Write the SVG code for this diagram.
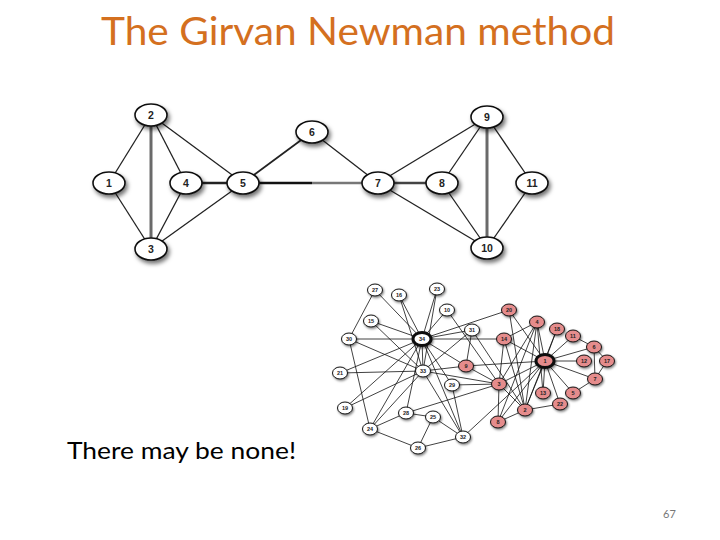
<svg xmlns="http://www.w3.org/2000/svg" width="720" height="540" viewBox="0 0 720 540">
<defs>
<filter id="sh" x="-50%" y="-50%" width="200%" height="200%"><feDropShadow dx="2" dy="3" stdDeviation="2" flood-color="#000" flood-opacity="0.55"/></filter>
<filter id="sh2" x="-50%" y="-50%" width="200%" height="200%"><feDropShadow dx="1" dy="1.5" stdDeviation="1" flood-color="#000" flood-opacity="0.5"/></filter>
</defs>
<style>
.title{font-family:Lato,"Open Sans","Liberation Sans",sans-serif;font-size:38px;fill:#D4701F}
.body{font-family:Lato,"Open Sans","Liberation Sans",sans-serif;font-size:24px;fill:#000}
.pg{font-family:Lato,"Liberation Sans",sans-serif;font-size:11px;fill:#777}
.tn ellipse{fill:#fff;stroke:#111;stroke-width:1.6;filter:url(#sh)}
.tn text{font-family:"Liberation Sans",Arial,sans-serif;font-size:10.5px;font-weight:bold;fill:#222;text-anchor:middle}
.e{stroke:#222;stroke-width:1.3;fill:none}
.ke{stroke:#111;stroke-width:0.8;fill:none}
.kn ellipse{stroke:#111;stroke-width:1;filter:url(#sh2)}
.w ellipse{fill:#fff}
.r ellipse{fill:#E58C8C}
.big ellipse{stroke-width:3}
.kn text{font-family:"Liberation Sans",Arial,sans-serif;font-size:5.5px;font-weight:bold;fill:#222;text-anchor:middle}
</style>
<rect width="720" height="540" fill="#fff"/>
<text class="title" x="358" y="45" text-anchor="middle" textLength="514" lengthAdjust="spacingAndGlyphs">The Girvan Newman method</text>

<g id="top-edges">
<line class="e" x1="151" y1="115" x2="109" y2="183"/>
<line class="e" x1="109" y1="183" x2="151" y2="249"/>
<line class="e" x1="151" y1="115" x2="151" y2="249" style="stroke:#6a6a6a;stroke-width:3"/>
<line class="e" x1="151" y1="115" x2="186" y2="183"/>
<line class="e" x1="151" y1="115" x2="243" y2="183"/>
<line class="e" x1="186" y1="183" x2="151" y2="249"/>
<line class="e" x1="243" y1="183" x2="151" y2="249"/>
<line class="e" x1="186" y1="183" x2="243" y2="183" style="stroke-width:2.5"/>
<line class="e" x1="243" y1="183" x2="312" y2="132" style="stroke-width:1.8"/>
<line class="e" x1="243" y1="183" x2="312" y2="183" style="stroke:#111;stroke-width:2.4"/>
<line class="e" x1="312" y1="183" x2="378" y2="183" style="stroke:#777;stroke-width:2.4"/>
<line class="e" x1="312" y1="132" x2="378" y2="183"/>
<line class="e" x1="378" y1="183" x2="442" y2="183" style="stroke:#444;stroke-width:2.5"/>
<line class="e" x1="378" y1="183" x2="487" y2="117"/>
<line class="e" x1="378" y1="183" x2="487" y2="248"/>
<line class="e" x1="442" y1="183" x2="487" y2="117"/>
<line class="e" x1="442" y1="183" x2="487" y2="248"/>
<line class="e" x1="487" y1="117" x2="487" y2="248" style="stroke:#6a6a6a;stroke-width:3"/>
<line class="e" x1="487" y1="117" x2="532" y2="183"/>
<line class="e" x1="532" y1="183" x2="487" y2="248"/>
</g>

<g id="n1" class="tn"><ellipse cx="109" cy="183" rx="16" ry="11"/><text x="109" y="187">1</text></g>
<g id="n2" class="tn"><ellipse cx="151" cy="115" rx="16" ry="11"/><text x="151" y="119">2</text></g>
<g id="n3" class="tn"><ellipse cx="151" cy="249" rx="16" ry="11"/><text x="151" y="253">3</text></g>
<g id="n4" class="tn"><ellipse cx="186" cy="183" rx="16" ry="11"/><text x="186" y="187">4</text></g>
<g id="n5" class="tn"><ellipse cx="243" cy="183" rx="16" ry="11"/><text x="243" y="187">5</text></g>
<g id="n6" class="tn"><ellipse cx="312" cy="132" rx="16" ry="11"/><text x="312" y="136">6</text></g>
<g id="n7" class="tn"><ellipse cx="378" cy="183" rx="16" ry="11"/><text x="378" y="187">7</text></g>
<g id="n8" class="tn"><ellipse cx="442" cy="183" rx="16" ry="11"/><text x="442" y="187">8</text></g>
<g id="n9" class="tn"><ellipse cx="487" cy="117" rx="16" ry="11"/><text x="487" y="121">9</text></g>
<g id="n10" class="tn"><ellipse cx="487" cy="248" rx="16" ry="11"/><text x="487" y="252">10</text></g>
<g id="n11" class="tn"><ellipse cx="532" cy="183" rx="16" ry="11"/><text x="532" y="187">11</text></g>

<g id="karate-edges">
<line class="ke" x1="545" y1="361" x2="525" y2="410"/>
<line class="ke" x1="545" y1="361" x2="499" y2="384"/>
<line class="ke" x1="545" y1="361" x2="537" y2="322"/>
<line class="ke" x1="545" y1="361" x2="573" y2="393"/>
<line class="ke" x1="545" y1="361" x2="594" y2="347"/>
<line class="ke" x1="545" y1="361" x2="595" y2="379"/>
<line class="ke" x1="545" y1="361" x2="498" y2="422"/>
<line class="ke" x1="545" y1="361" x2="466" y2="366"/>
<line class="ke" x1="545" y1="361" x2="573" y2="336"/>
<line class="ke" x1="545" y1="361" x2="584" y2="361"/>
<line class="ke" x1="545" y1="361" x2="543" y2="393"/>
<line class="ke" x1="545" y1="361" x2="504" y2="339"/>
<line class="ke" x1="545" y1="361" x2="557" y2="329"/>
<line class="ke" x1="545" y1="361" x2="509" y2="310"/>
<line class="ke" x1="545" y1="361" x2="560" y2="404"/>
<line class="ke" x1="545" y1="361" x2="463" y2="437"/>
<line class="ke" x1="525" y1="410" x2="499" y2="384"/>
<line class="ke" x1="525" y1="410" x2="537" y2="322"/>
<line class="ke" x1="525" y1="410" x2="498" y2="422"/>
<line class="ke" x1="525" y1="410" x2="504" y2="339"/>
<line class="ke" x1="525" y1="410" x2="557" y2="329"/>
<line class="ke" x1="525" y1="410" x2="509" y2="310"/>
<line class="ke" x1="525" y1="410" x2="560" y2="404"/>
<line class="ke" x1="525" y1="410" x2="472" y2="330"/>
<line class="ke" x1="499" y1="384" x2="537" y2="322"/>
<line class="ke" x1="499" y1="384" x2="498" y2="422"/>
<line class="ke" x1="499" y1="384" x2="466" y2="366"/>
<line class="ke" x1="499" y1="384" x2="447" y2="310"/>
<line class="ke" x1="499" y1="384" x2="504" y2="339"/>
<line class="ke" x1="499" y1="384" x2="406" y2="413"/>
<line class="ke" x1="499" y1="384" x2="452" y2="385"/>
<line class="ke" x1="499" y1="384" x2="423" y2="371"/>
<line class="ke" x1="537" y1="322" x2="498" y2="422"/>
<line class="ke" x1="537" y1="322" x2="543" y2="393"/>
<line class="ke" x1="537" y1="322" x2="504" y2="339"/>
<line class="ke" x1="573" y1="393" x2="595" y2="379"/>
<line class="ke" x1="594" y1="347" x2="595" y2="379"/>
<line class="ke" x1="594" y1="347" x2="573" y2="336"/>
<line class="ke" x1="594" y1="347" x2="607" y2="361"/>
<line class="ke" x1="595" y1="379" x2="607" y2="361"/>
<line class="ke" x1="466" y1="366" x2="472" y2="330"/>
<line class="ke" x1="466" y1="366" x2="423" y2="371"/>
<line class="ke" x1="466" y1="366" x2="422" y2="339"/>
<line class="ke" x1="447" y1="310" x2="422" y2="339"/>
<line class="ke" x1="504" y1="339" x2="422" y2="339"/>
<line class="ke" x1="371" y1="321" x2="423" y2="371"/>
<line class="ke" x1="371" y1="321" x2="422" y2="339"/>
<line class="ke" x1="399" y1="295" x2="423" y2="371"/>
<line class="ke" x1="399" y1="295" x2="422" y2="339"/>
<line class="ke" x1="345" y1="408" x2="423" y2="371"/>
<line class="ke" x1="345" y1="408" x2="422" y2="339"/>
<line class="ke" x1="509" y1="310" x2="422" y2="339"/>
<line class="ke" x1="340" y1="373" x2="423" y2="371"/>
<line class="ke" x1="340" y1="373" x2="422" y2="339"/>
<line class="ke" x1="437" y1="289" x2="423" y2="371"/>
<line class="ke" x1="437" y1="289" x2="422" y2="339"/>
<line class="ke" x1="370" y1="429" x2="418" y2="448"/>
<line class="ke" x1="370" y1="429" x2="406" y2="413"/>
<line class="ke" x1="370" y1="429" x2="349" y2="339"/>
<line class="ke" x1="370" y1="429" x2="423" y2="371"/>
<line class="ke" x1="370" y1="429" x2="422" y2="339"/>
<line class="ke" x1="433" y1="417" x2="418" y2="448"/>
<line class="ke" x1="433" y1="417" x2="406" y2="413"/>
<line class="ke" x1="433" y1="417" x2="463" y2="437"/>
<line class="ke" x1="418" y1="448" x2="463" y2="437"/>
<line class="ke" x1="375" y1="290" x2="349" y2="339"/>
<line class="ke" x1="375" y1="290" x2="422" y2="339"/>
<line class="ke" x1="406" y1="413" x2="422" y2="339"/>
<line class="ke" x1="452" y1="385" x2="463" y2="437"/>
<line class="ke" x1="452" y1="385" x2="422" y2="339"/>
<line class="ke" x1="349" y1="339" x2="423" y2="371"/>
<line class="ke" x1="349" y1="339" x2="422" y2="339"/>
<line class="ke" x1="472" y1="330" x2="423" y2="371"/>
<line class="ke" x1="472" y1="330" x2="422" y2="339"/>
<line class="ke" x1="463" y1="437" x2="423" y2="371"/>
<line class="ke" x1="463" y1="437" x2="422" y2="339"/>
<line class="ke" x1="423" y1="371" x2="422" y2="339"/>
</g>

<g id="k27" class="kn w"><ellipse cx="375" cy="290" rx="7.5" ry="6"/><text x="375" y="292">27</text></g>
<g id="k16" class="kn w"><ellipse cx="399" cy="295" rx="7.5" ry="6"/><text x="399" y="297">16</text></g>
<g id="k23" class="kn w"><ellipse cx="437" cy="289" rx="7.5" ry="6"/><text x="437" y="291">23</text></g>
<g id="k10" class="kn w"><ellipse cx="447" cy="310" rx="7.5" ry="6"/><text x="447" y="312">10</text></g>
<g id="k15" class="kn w"><ellipse cx="371" cy="321" rx="7.5" ry="6"/><text x="371" y="323">15</text></g>
<g id="k30" class="kn w"><ellipse cx="349" cy="339" rx="7.5" ry="6"/><text x="349" y="341">30</text></g>
<g id="k34" class="kn w big"><ellipse cx="422" cy="339" rx="9" ry="6.5"/><text x="422" y="341">34</text></g>
<g id="k31" class="kn w"><ellipse cx="472" cy="330" rx="7.5" ry="6"/><text x="472" y="332">31</text></g>
<g id="k21" class="kn w"><ellipse cx="340" cy="373" rx="7.5" ry="6"/><text x="340" y="375">21</text></g>
<g id="k33" class="kn w"><ellipse cx="423" cy="371" rx="7.5" ry="6"/><text x="423" y="373">33</text></g>
<g id="k29" class="kn w"><ellipse cx="452" cy="385" rx="7.5" ry="6"/><text x="452" y="387">29</text></g>
<g id="k19" class="kn w"><ellipse cx="345" cy="408" rx="7.5" ry="6"/><text x="345" y="410">19</text></g>
<g id="k28" class="kn w"><ellipse cx="406" cy="413" rx="7.5" ry="6"/><text x="406" y="415">28</text></g>
<g id="k25" class="kn w"><ellipse cx="433" cy="417" rx="7.5" ry="6"/><text x="433" y="419">25</text></g>
<g id="k24" class="kn w"><ellipse cx="370" cy="429" rx="7.5" ry="6"/><text x="370" y="431">24</text></g>
<g id="k32" class="kn w"><ellipse cx="463" cy="437" rx="7.5" ry="6"/><text x="463" y="439">32</text></g>
<g id="k26" class="kn w"><ellipse cx="418" cy="448" rx="7.5" ry="6"/><text x="418" y="450">26</text></g>

<g id="k20" class="kn r"><ellipse cx="509" cy="310" rx="7.5" ry="6"/><text x="509" y="312">20</text></g>
<g id="k4" class="kn r"><ellipse cx="537" cy="322" rx="7.5" ry="6"/><text x="537" y="324">4</text></g>
<g id="k18" class="kn r"><ellipse cx="557" cy="329" rx="7.5" ry="6"/><text x="557" y="331">18</text></g>
<g id="k11" class="kn r"><ellipse cx="573" cy="336" rx="7.5" ry="6"/><text x="573" y="338">11</text></g>
<g id="k14" class="kn r"><ellipse cx="504" cy="339" rx="7.5" ry="6"/><text x="504" y="341">14</text></g>
<g id="k6" class="kn r"><ellipse cx="594" cy="347" rx="7.5" ry="6"/><text x="594" y="349">6</text></g>
<g id="k1" class="kn r big"><ellipse cx="545" cy="361" rx="9" ry="6.5"/><text x="545" y="363">1</text></g>
<g id="k12" class="kn r"><ellipse cx="584" cy="361" rx="7.5" ry="6"/><text x="584" y="363">12</text></g>
<g id="k17" class="kn r"><ellipse cx="607" cy="361" rx="7.5" ry="6"/><text x="607" y="363">17</text></g>
<g id="k9" class="kn r"><ellipse cx="466" cy="366" rx="7.5" ry="6"/><text x="466" y="368">9</text></g>
<g id="k3" class="kn r"><ellipse cx="499" cy="384" rx="7.5" ry="6"/><text x="499" y="386">3</text></g>
<g id="k7" class="kn r"><ellipse cx="595" cy="379" rx="7.5" ry="6"/><text x="595" y="381">7</text></g>
<g id="k13" class="kn r"><ellipse cx="543" cy="393" rx="7.5" ry="6"/><text x="543" y="395">13</text></g>
<g id="k5" class="kn r"><ellipse cx="573" cy="393" rx="7.5" ry="6"/><text x="573" y="395">5</text></g>
<g id="k22" class="kn r"><ellipse cx="560" cy="404" rx="7.5" ry="6"/><text x="560" y="406">22</text></g>
<g id="k2" class="kn r"><ellipse cx="525" cy="410" rx="7.5" ry="6"/><text x="525" y="412">2</text></g>
<g id="k8" class="kn r"><ellipse cx="498" cy="422" rx="7.5" ry="6"/><text x="498" y="424">8</text></g>

<text class="body" x="67" y="459" textLength="229" lengthAdjust="spacingAndGlyphs">There may be none!</text>
<text class="pg" x="663" y="518">67</text>
</svg>
